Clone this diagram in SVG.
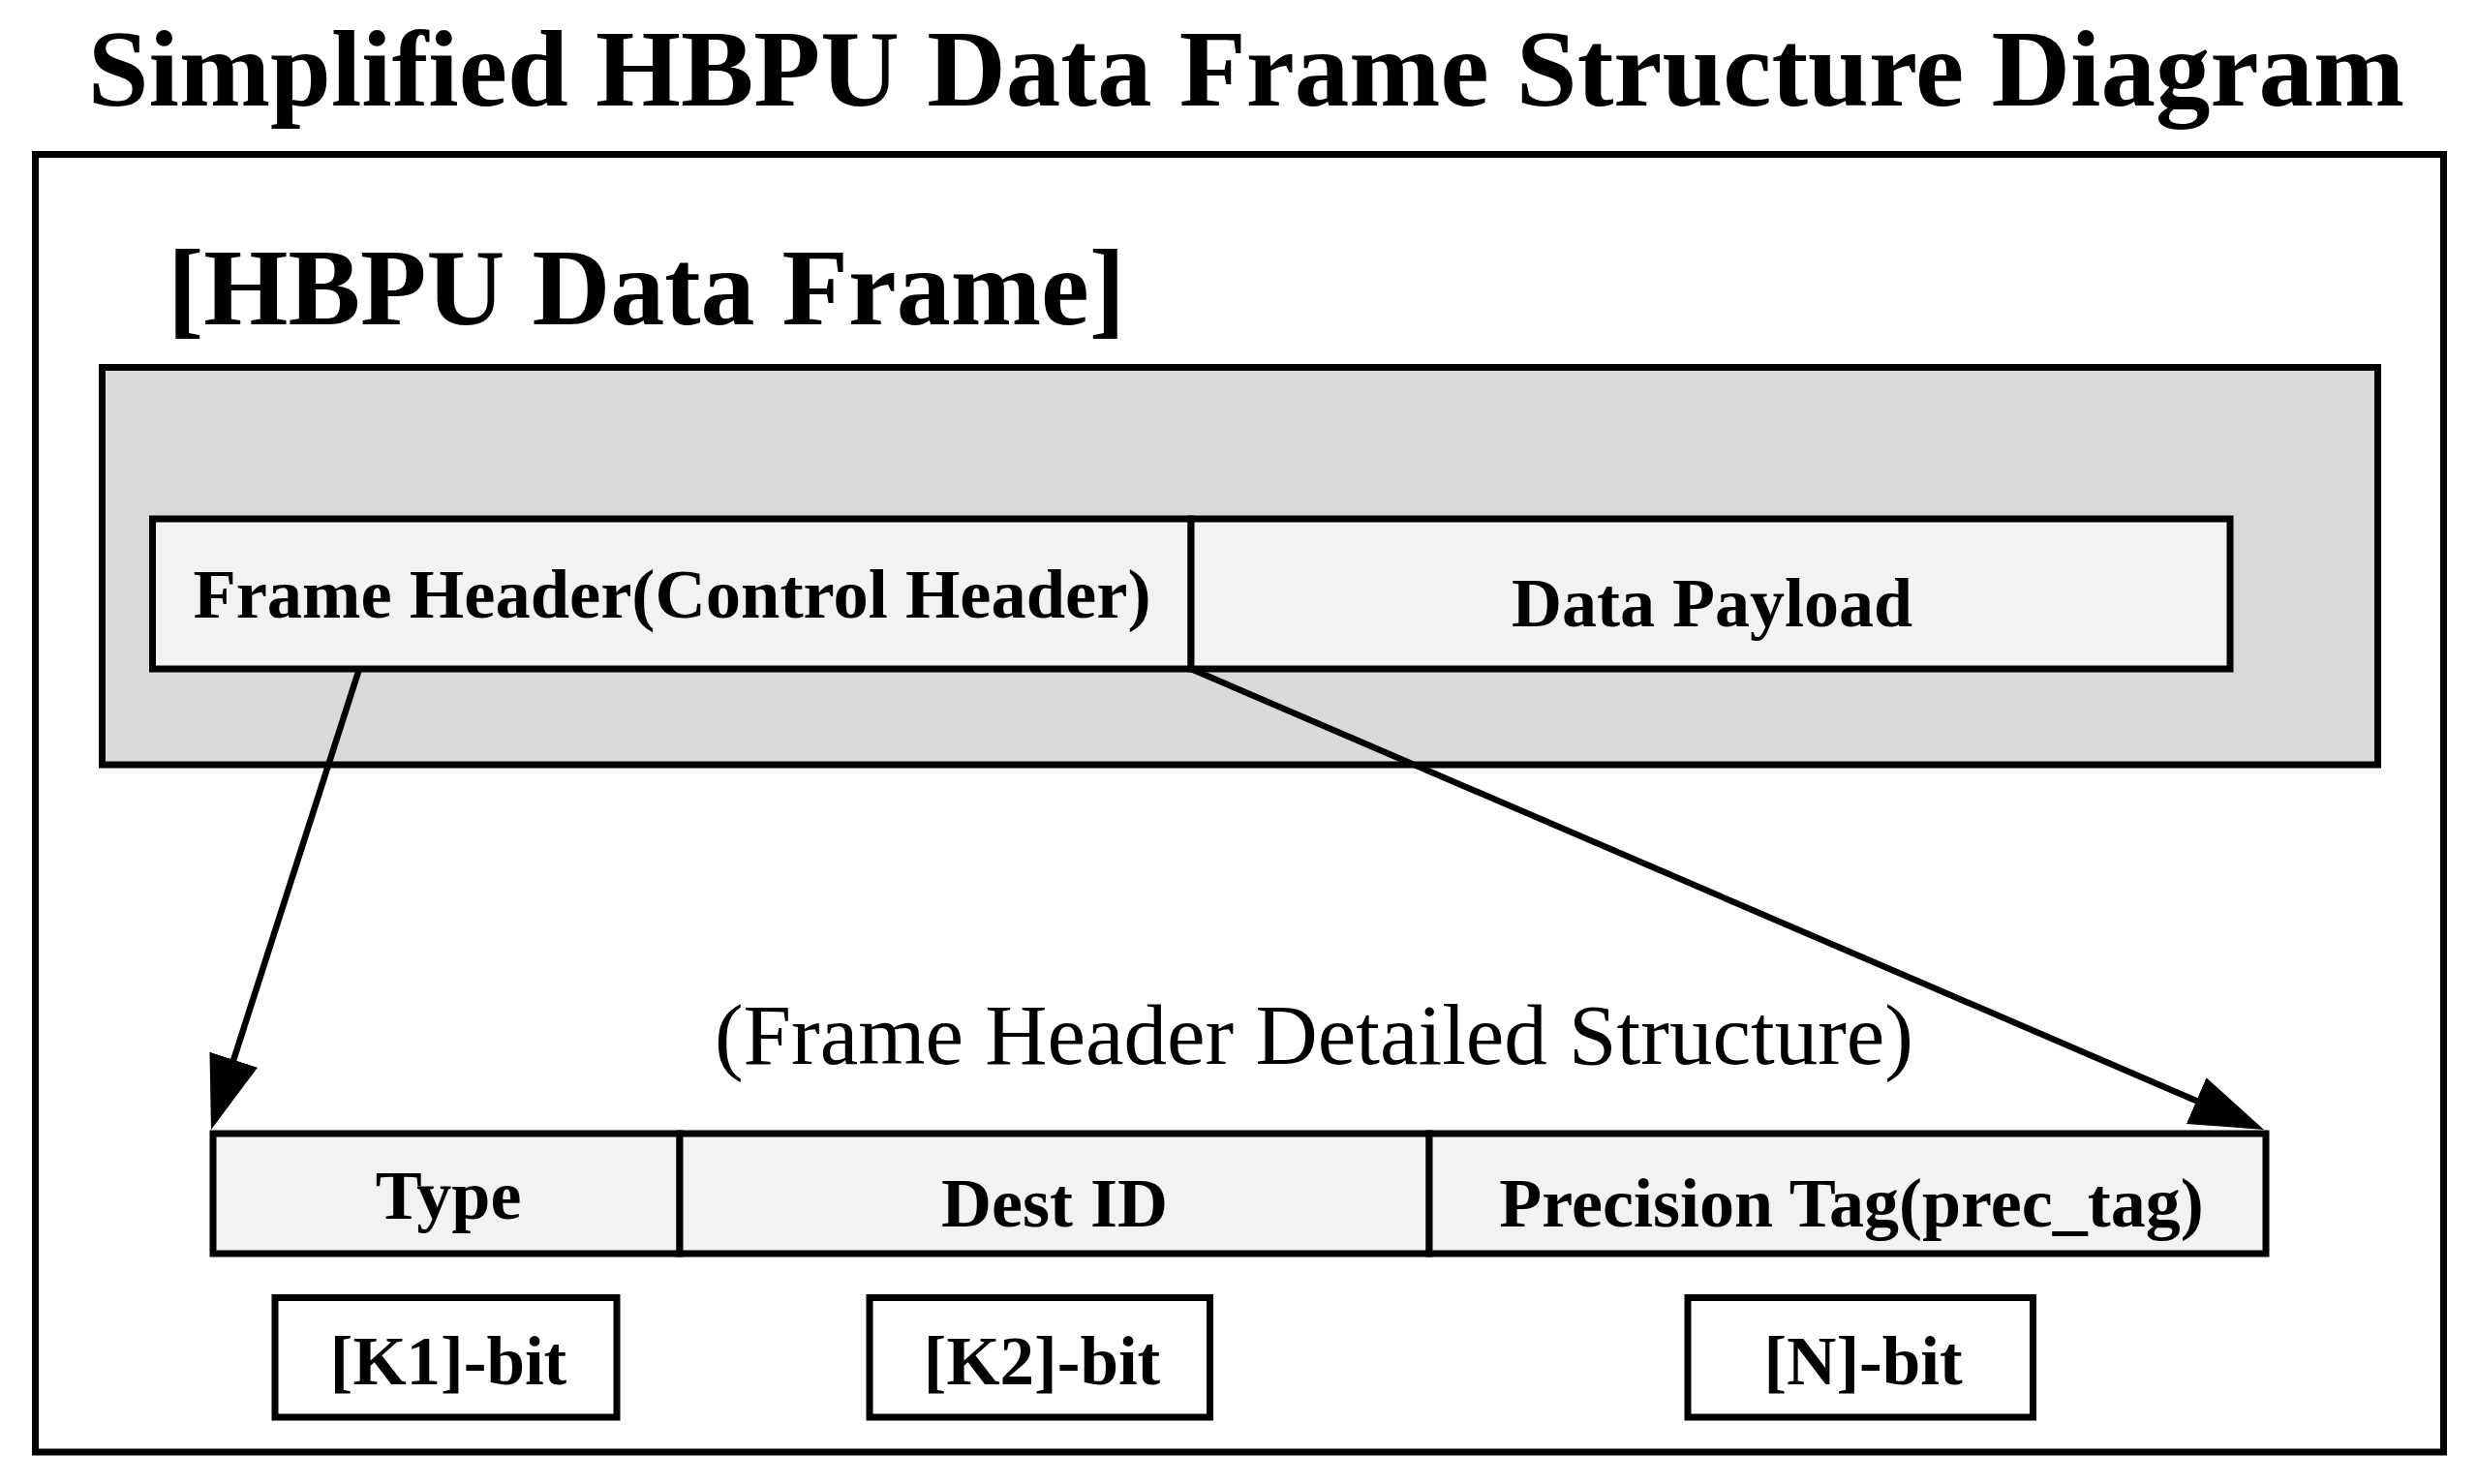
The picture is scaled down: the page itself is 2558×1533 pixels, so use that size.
<svg xmlns="http://www.w3.org/2000/svg" width="2558" height="1533" viewBox="0 0 2558 1533">
  <style>
    .box { stroke: #000; stroke-width: 7; }
    .white { fill: #ffffff; }
    .gray { fill: #d9d9d9; }
    .light { fill: #f2f2f2; }
    .t { font-family: "Liberation Serif", "Times New Roman", serif; fill: #000; }
    .b { font-weight: bold; }
    .mid { text-anchor: middle; }
    .conn { stroke: #000; stroke-width: 6.5; fill: none; }
  </style>
  <defs>
    <marker id="arrow" markerUnits="userSpaceOnUse" markerWidth="80" markerHeight="56" refX="6" refY="26" orient="auto">
      <path d="M0,0 L76,26 L0,52 Z" fill="#000"/>
    </marker>
  </defs>
  <rect width="2558" height="1533" fill="#ffffff"/>

  <g id="title">
    <text class="t b mid" x="1287" y="109" font-size="113">Simplified HBPU Data Frame Structure Diagram</text>
  </g>

  <g id="outer-frame">
    <rect class="box white" x="36.5" y="159.5" width="2487" height="1340.5"/>
  </g>

  <g id="hbpu-frame-label">
    <text class="t b" x="173" y="335" font-size="112">[HBPU Data Frame]</text>
  </g>

  <g id="hbpu-frame">
    <rect class="box gray" x="105.5" y="379.5" width="2350" height="410.5"/>
  </g>

  <g id="frame-header">
    <rect class="box light" x="157.5" y="536" width="1072.5" height="155"/>
    <text class="t b mid" x="694" y="638" font-size="72.5">Frame Header(Control Header)</text>
  </g>

  <g id="data-payload">
    <rect class="box light" x="1230" y="536" width="1073" height="155"/>
    <text class="t b mid" x="1768" y="647" font-size="72">Data Payload</text>
  </g>

  <g id="detail-caption">
    <text class="t mid" x="1357" y="1099" font-size="89">(Frame Header Detailed Structure)</text>
  </g>

  <g id="field-type">
    <rect class="box light" x="220" y="1171" width="482" height="124"/>
    <text class="t b mid" x="463" y="1259" font-size="72">Type</text>
  </g>

  <g id="field-dest-id">
    <rect class="box light" x="702" y="1171" width="774" height="124"/>
    <text class="t b mid" x="1089" y="1267" font-size="72">Dest ID</text>
  </g>

  <g id="field-prec-tag">
    <rect class="box light" x="1476" y="1171" width="864" height="124"/>
    <text class="t b mid" x="1912" y="1267" font-size="72">Precision Tag(prec_tag)</text>
  </g>

  <g id="bits-k1">
    <rect class="box white" x="284" y="1340.5" width="353" height="123.5"/>
    <text class="t b mid" x="463" y="1430" font-size="71">[K1]-bit</text>
  </g>

  <g id="bits-k2">
    <rect class="box white" x="898" y="1340.5" width="351.5" height="123.5"/>
    <text class="t b mid" x="1076" y="1430" font-size="71">[K2]-bit</text>
  </g>

  <g id="bits-n">
    <rect class="box white" x="1743" y="1340.5" width="356.5" height="123.5"/>
    <text class="t b mid" x="1924" y="1430" font-size="71">[N]-bit</text>
  </g>

  <g id="connectors">
    <line class="conn" x1="371" y1="691" x2="239.4" y2="1100.4" marker-end="url(#arrow)"/>
    <line class="conn" x1="1230" y1="691" x2="2273.7" y2="1139.4" marker-end="url(#arrow)"/>
  </g>
</svg>
